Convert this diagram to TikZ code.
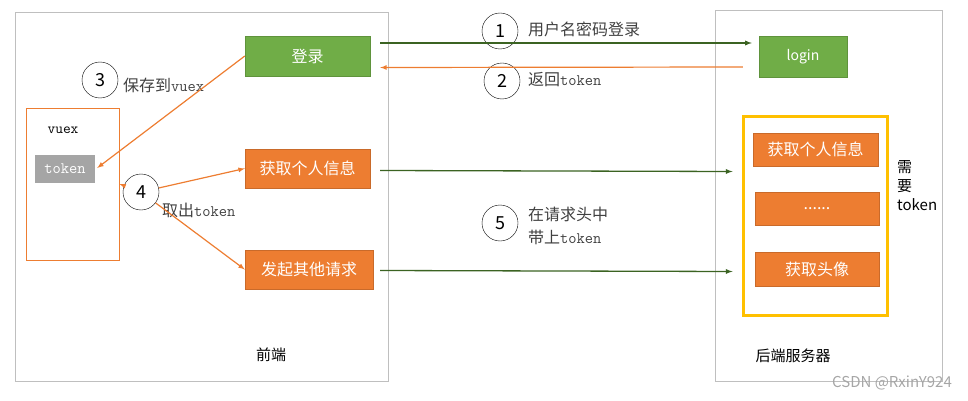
\documentclass[tikz,border=0pt]{standalone}
\usepackage{fontspec}
\setmainfont{Noto Sans CJK SC}
\usetikzlibrary{calc,
	positioning,
	arrows}
\definecolor{grn}{HTML}{70AD47}
\definecolor{dgrn}{HTML}{3B6322}
\definecolor{org}{HTML}{ED7D31}
\definecolor{ylw}{HTML}{FFC000}
\definecolor{frm}{HTML}{BFBFBF}
\definecolor{tkn}{HTML}{A5A5A5}
\newcommand{\bxf}{\fontsize{16}{19}\selectfont}
\newcommand{\lbf}{\fontsize{16}{23}\selectfont}
\tikzstyle{frame}=[draw=frm, line width=1pt, inner sep=0]
\tikzstyle{gb}=[draw=grn!85!black, fill=grn, text=white, inner sep=0, font=\bxf]
\tikzstyle{ob}=[draw=org!85!black, fill=org, text=white, inner sep=0, font=\bxf]
\tikzstyle{num}=[draw, circle, minimum size=36pt, inner sep=0, font=\fontsize{18}{20}\selectfont]
\tikzstyle{lbl}=[anchor=west, inner sep=0, text=black!75, font=\lbf, align=left]
\tikzstyle{ga}=[draw=dgrn, line width=1.3pt, -latex]
\tikzstyle{oa}=[draw=org, line width=1.2pt, -latex]

\begin{document}
\begin{tikzpicture}[x=1pt, y=-1pt]
            \useasboundingbox (0,0) rectangle (968,401);
            \node[frame, minimum width=373, minimum height=368] (fe) at (201.5,197) {};
            \node[frame, minimum width=227, minimum height=370] (be) at (828.5,196) {};
            \node[gb, minimum width=125, minimum height=40] (dl) at (307.5,56) {登录};
            \node[ob, minimum width=125, minimum height=39] (fr1) at (307.5,168.5) {获取个人信息};
            \node[ob, minimum width=128, minimum height=39] (fr2) at (309,269.5) {发起其他请求};
            \node[draw=org, line width=0.8pt, minimum width=93, minimum height=152, inner sep=0] (vuex) at (72.5,184) {};
            \node[inner sep=0, font=\fontsize{15}{17}\selectfont\ttfamily] (vx) at (63,130) {vuex};
            \node[fill=tkn, text=white, minimum width=60, minimum height=28, inner sep=0, font=\fontsize{16}{18}\selectfont\ttfamily] (tk) at (65,169) {token};
            \node[gb, minimum width=88, minimum height=41, font=\fontsize{14}{16}\selectfont] (lg) at (803,56.5) {login};
            \node[draw=ylw, line width=3pt, minimum width=144, minimum height=198, inner sep=0] (yb) at (815,216) {};
            \node[ob, minimum width=125, minimum height=33] (bk1) at (815.5,149.5) {获取个人信息};
            \node[ob, minimum width=124, minimum height=33] (bk2) at (817,208.5) {......};
            \node[ob, minimum width=124, minimum height=34] (bk3) at (817,269) {获取头像};
            \node[inner sep=0, anchor=north west, align=left, font=\fontsize{15}{19}\selectfont] (nt) at (897,160) {需\\要\\token};
            \node[inner sep=0, font=\fontsize{15}{17}\selectfont] (fl) at (271,355) {前端};
            \node[inner sep=0, font=\fontsize{15}{17}\selectfont] (bl) at (793,356) {后端服务器};
            \node[inner sep=0, anchor=east, text=black!35, font=\fontsize{15}{17}\selectfont] (wm) at (952,383) {CSDN @RxinY924};
            \node[num] (c1) at (500,31) {1};
            \node[num] (c2) at (502,81) {2};
            \node[num] (c3) at (100,80) {3};
            \node[num] (c4) at (141,192) {4};
            \node[num] (c5) at (500,223) {5};
            \node[lbl] (l1) at (528,29) {用户名密码登录};
            \node[lbl] (l2) at (528,80) {返回\texttt{token}};
            \node[lbl] (l3) at (123,85) {保存到\texttt{vuex}};
            \node[lbl] (l4) at (162,210) {取出\texttt{token}};
            \node[lbl] (l5) at (528,226) {在请求头中\\带上\texttt{token}};
            \draw[ga] ($(dl.east)+(10,-13)$) -- ($(lg.west)+(-7,-13.5)$);
            \draw[oa] ($(lg.west)+(-16,10.5)$) -- ($(dl.east)+(10,11.5)$);
            \draw[oa] (dl.west) -- ($(tk.east)+(2,-1)$);
            \draw[oa] (c4) -- (fr1.west);
            \draw[oa] (c4) -- (fr2.west);
            \draw[oa] (c4) -- (vuex.east);
            \draw[ga] ($(fr1.east)+(10,2)$) -- ($(yb.west |- fr1.east)+(-9,3)$);
            \draw[ga] ($(fr2.east)+(7,1)$) -- ($(yb.west |- fr2.east)+(-9,2)$);
\end{tikzpicture}
\end{document}
